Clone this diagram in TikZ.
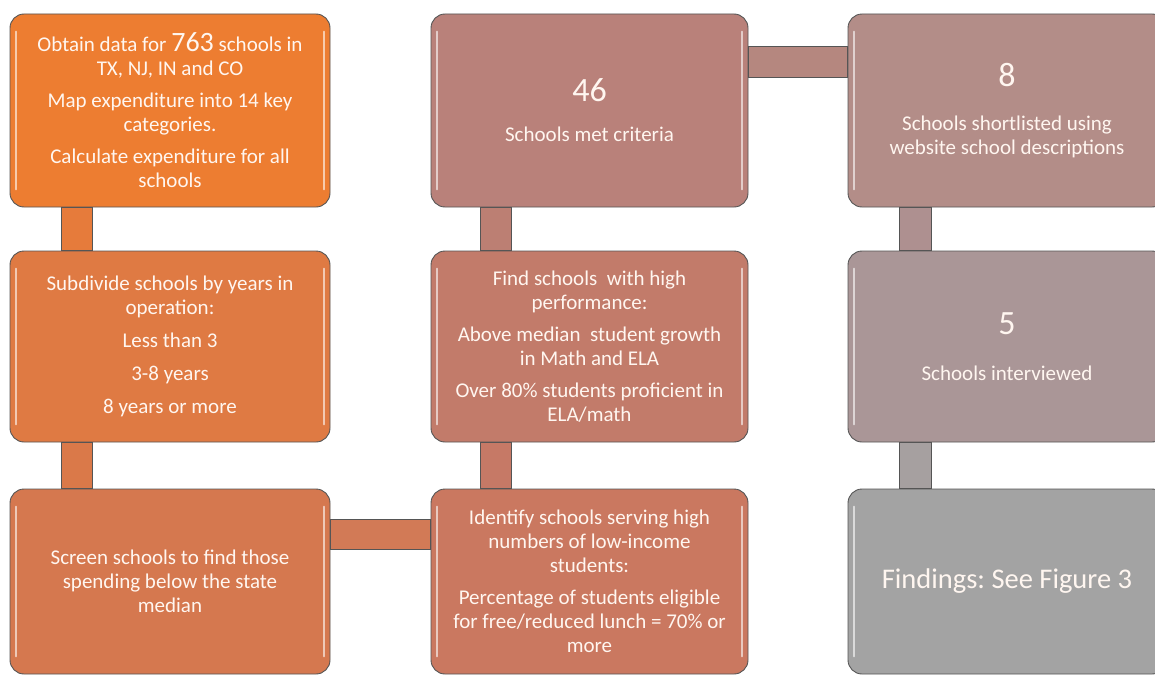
\documentclass[tikz,border=0pt]{standalone}
\usepackage{fontspec}
\setmainfont{Carlito}
\usetikzlibrary{calc}
\frenchspacing

% fills of the nine process boxes
\definecolor{fillA1}{HTML}{ED7D31}
\definecolor{fillA2}{HTML}{DF7A43}
\definecolor{fillA3}{HTML}{D5784F}
\definecolor{fillB1}{HTML}{B9817A}
\definecolor{fillB2}{HTML}{C27B6A}
\definecolor{fillB3}{HTML}{CA7860}
\definecolor{fillC1}{HTML}{B38D88}
\definecolor{fillC2}{HTML}{AA9697}
\definecolor{fillC3}{HTML}{A3A3A3}
% fills of the connecting bars
\definecolor{barA12}{HTML}{E67B3B}
\definecolor{barA23}{HTML}{DA7949}
\definecolor{barAB3}{HTML}{D27A56}
\definecolor{barB12}{HTML}{BC7F73}
\definecolor{barB23}{HTML}{C67966}
\definecolor{barBC1}{HTML}{B5877F}
\definecolor{barC12}{HTML}{AE9090}
\definecolor{barC23}{HTML}{A6A0A0}
\definecolor{edge}{HTML}{555555}
\definecolor{txt}{HTML}{FFF6F0}

\tikzset{
  box/.style={rounded corners=14pt, draw=edge, line width=0.9pt,
    text=txt, align=center, inner sep=0pt, minimum width=320pt,
    font=\fontsize{21}{24}\selectfont},
  bar/.style={draw=edge, line width=0.9pt},
  gloss/.style={draw=white, opacity=0.6, line width=2pt, line cap=round}
}
\newcommand{\glossy}[1]{%
  \draw[gloss] ($(#1.north west)+(6,18)$) -- ($(#1.south west)+(6,-18)$);
  \draw[gloss] ($(#1.north east)+(-6,18)$) -- ($(#1.south east)+(-6,-18)$);}

\begin{document}
\begin{tikzpicture}[x=1pt, y=-1pt]
\useasboundingbox (0,0) rectangle (1155,677);
\clip (0,0) rectangle (1155,677);

% the nine process boxes
\path
  node[box, fill=fillA1, minimum height=193pt] (a1) at (170,110.5)
    {Obtain data for {\fontsize{28}{24}\selectfont 763} schools in\\
     TX, NJ, IN and CO\\[8pt]
     Map expenditure into 14 key\\ categories.\\[8pt]
     Calculate expenditure for all\\ schools}
  node[box, fill=fillA2, minimum height=191pt] (a2) at (170,346.5)
    {Subdivide schools by years in\\ operation:\\[9pt]
     Less than 3\\[9pt] 3-8 years\\[9pt] 8 years or more}
  node[box, fill=fillA3, minimum height=185pt] (a3) at (170,581.5)
    {Screen schools to find those\\ spending below the state\\ median}
  node[box, fill=fillB1, minimum width=317pt, minimum height=193pt] (b1) at (589.5,110.5)
    {{\fontsize{34}{34}\selectfont 46}\\[16pt] Schools met criteria}
  node[box, fill=fillB2, minimum width=317pt, minimum height=191pt] (b2) at (589.5,346.5)
    {Find schools\ \ with high\\ performance:\\[8pt]
     Above median\ \ student growth\\ in Math and ELA\\[8pt]
     Over 80\% students proficient in\\ ELA/math}
  node[box, fill=fillB3, minimum width=317pt, minimum height=185pt] (b3) at (589.5,581.5)
    {Identify schools serving high\\ numbers of low-income\\ students:\\[8pt]
     Percentage of students eligible\\ for free/reduced lunch = 70\% or\\ more}
  node[box, fill=fillC1, minimum width=318pt, minimum height=193pt] (c1) at (1007,110.5)
    {{\fontsize{34}{34}\selectfont 8}\\[20pt]
     Schools shortlisted using\\ website school descriptions}
  node[box, fill=fillC2, minimum width=318pt, minimum height=191pt] (c2) at (1007,346.5)
    {{\fontsize{34}{34}\selectfont 5}\\[22pt] Schools interviewed}
  node[box, fill=fillC3, minimum width=318pt, minimum height=185pt] (c3) at (1007,581.5)
    {\fontsize{28.5}{30}\selectfont Findings: See Figure 3};

% connecting bars between neighbouring boxes
\draw[bar, fill=barA12] ($(a1.south)+(-109,0)$) rectangle ($(a2.north)+(-78,0)$);
\draw[bar, fill=barA23] ($(a2.south)+(-109,0)$) rectangle ($(a3.north)+(-78,0)$);
\draw[bar, fill=barB12] ($(b1.south)+(-109,0)$) rectangle ($(b2.north)+(-78,0)$);
\draw[bar, fill=barB23] ($(b2.south)+(-109,0)$) rectangle ($(b3.north)+(-78,0)$);
\draw[bar, fill=barC12] ($(c1.south)+(-108,0)$) rectangle ($(c2.north)+(-76,0)$);
\draw[bar, fill=barC23] ($(c2.south)+(-108,0)$) rectangle ($(c3.north)+(-76,0)$);
\draw[bar, fill=barBC1] ($(b1.north east)+(0,33)$) rectangle ($(c1.north west)+(0,64)$);
\draw[bar, fill=barAB3] ($(a3.north east)+(0,31)$) rectangle ($(b3.north west)+(0,61)$);

% glossy highlights along the side edges
\foreach \n in {a1,a2,a3,b1,b2,b3,c1,c2,c3} {\glossy{\n}}
\end{tikzpicture}
\end{document}
